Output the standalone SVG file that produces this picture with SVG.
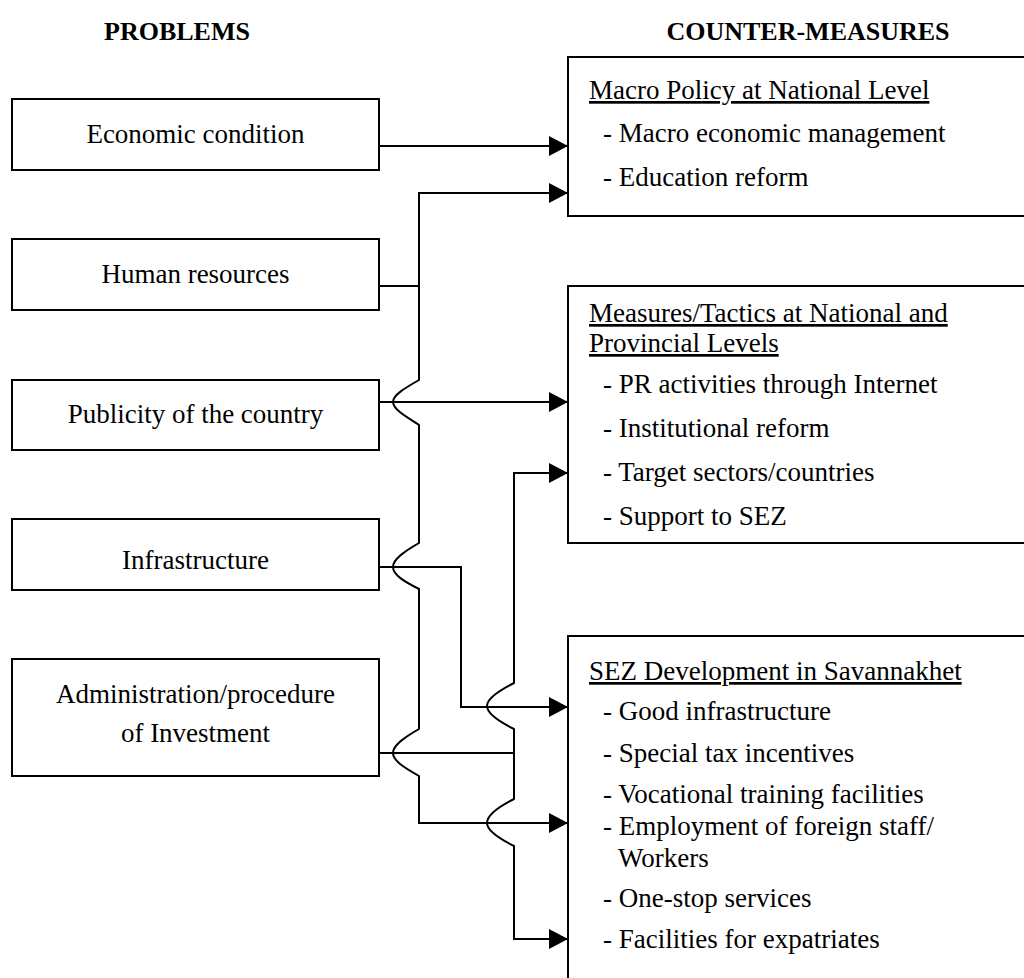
<svg xmlns="http://www.w3.org/2000/svg" width="1024" height="978" viewBox="0 0 1024 978">
  <style>
    .box { fill: #fff; stroke: #000; stroke-width: 2; }
    .lbl { font-family: "Liberation Serif", "Times New Roman", serif; font-size: 27px; fill: #000; }
    .ctr { text-anchor: middle; }
    .head { font-family: "Liberation Serif", "Times New Roman", serif; font-size: 26px; font-weight: bold; text-anchor: middle; fill: #000; }
    .ul { text-decoration: underline; }
    .wire { fill: none; stroke: #000; stroke-width: 2; }
  </style>
  <defs>
    <marker id="arrow" markerUnits="userSpaceOnUse" markerWidth="20" markerHeight="20" refX="19" refY="10" orient="auto">
      <path d="M0,0 L19,10 L0,20 Z" fill="#000"/>
    </marker>
  </defs>

  <rect width="1024" height="978" fill="#fff"/>

  <!-- column headings -->
  <text class="head" x="177" y="40">PROBLEMS</text>
  <text class="head" x="808" y="40">COUNTER-MEASURES</text>

  <!-- problems -->
  <g id="economic">
    <rect class="box" x="12" y="99" width="367" height="71"/>
    <text class="lbl ctr" x="195.5" y="143">Economic condition</text>
  </g>
  <g id="human">
    <rect class="box" x="12" y="239" width="367" height="71"/>
    <text class="lbl ctr" x="195.5" y="283">Human resources</text>
  </g>
  <g id="publicity">
    <rect class="box" x="12" y="380" width="367" height="70"/>
    <text class="lbl ctr" x="195.5" y="423">Publicity of the country</text>
  </g>
  <g id="infrastructure">
    <rect class="box" x="12" y="519" width="367" height="71"/>
    <text class="lbl ctr" x="195.5" y="569">Infrastructure</text>
  </g>
  <g id="administration">
    <rect class="box" x="12" y="659" width="367" height="117"/>
    <text class="lbl ctr" x="195.5" y="703">Administration/procedure</text>
    <text class="lbl ctr" x="195.5" y="742">of Investment</text>
  </g>

  <!-- counter-measures -->
  <g id="macro">
    <rect class="box" x="568" y="57" width="470" height="159"/>
    <text class="lbl ul" x="589" y="99">Macro Policy at National Level</text>
    <text class="lbl" x="603" y="142">- Macro economic management</text>
    <text class="lbl" x="603" y="186">- Education reform</text>
  </g>
  <g id="tactics">
    <rect class="box" x="568" y="286" width="470" height="257"/>
    <text class="lbl ul" x="589" y="322">Measures/Tactics at National and</text>
    <text class="lbl ul" x="589" y="352">Provincial Levels</text>
    <text class="lbl" x="603" y="393">- PR activities through Internet</text>
    <text class="lbl" x="603" y="437">- Institutional reform</text>
    <text class="lbl" x="603" y="481">- Target sectors/countries</text>
    <text class="lbl" x="603" y="525">- Support to SEZ</text>
  </g>
  <g id="sez">
    <rect class="box" x="568" y="636" width="470" height="360"/>
    <text class="lbl ul" x="589" y="680">SEZ Development in Savannakhet</text>
    <text class="lbl" x="603" y="720">- Good infrastructure</text>
    <text class="lbl" x="603" y="762">- Special tax incentives</text>
    <text class="lbl" x="603" y="803">- Vocational training facilities</text>
    <text class="lbl" x="603" y="835">- Employment of foreign staff/</text>
    <text class="lbl" x="618" y="867">Workers</text>
    <text class="lbl" x="603" y="907">- One-stop services</text>
    <text class="lbl" x="603" y="948">- Facilities for expatriates</text>
  </g>

  <!-- connectors; vertical runs hop around crossing lines -->
  <g id="connectors">
    <path class="wire" marker-end="url(#arrow)" d="M379,146 H568"/>
    <path class="wire" marker-end="url(#arrow)" d="M379,286 H419 V193 H568"/>
    <path class="wire" marker-end="url(#arrow)" d="M419,286 V380 C405,388 393,395 393,402 C393,409 405,416 419,425 V543 C405,551 393,559 393,567 C393,575 405,582 419,589 V729 C405,737 393,745 393,753 C393,761 405,768 419,776 V823 H568"/>
    <path class="wire" marker-end="url(#arrow)" d="M379,402 H568"/>
    <path class="wire" marker-end="url(#arrow)" d="M379,567 H461 V707 H568"/>
    <path class="wire" marker-end="url(#arrow)" d="M379,753 H514 V729 C500,722 487,714 487,706 C487,698 500,690 514,683 V473 H568"/>
    <path class="wire" marker-end="url(#arrow)" d="M514,753 V799 C500,806 487,815 487,823 C487,831 500,839 514,846 V939 H568"/>
  </g>
</svg>
